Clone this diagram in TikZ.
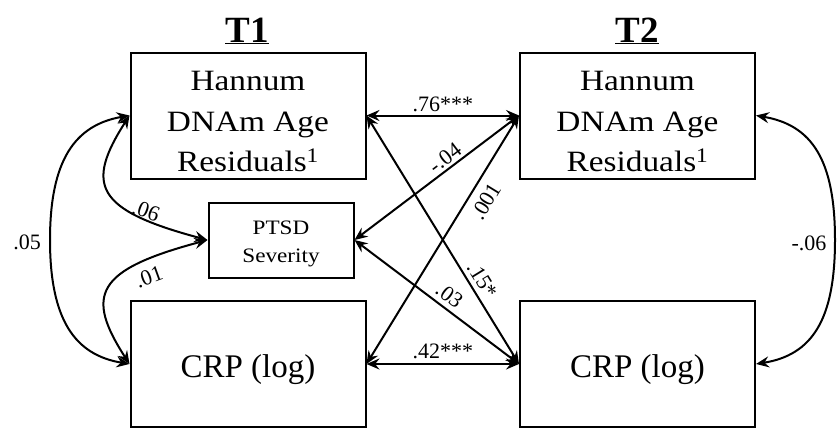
\documentclass[tikz,border=0pt]{standalone}
\usepackage{fontspec}
\setmainfont{Liberation Serif}
\newfontfamily\widefont{Liberation Serif}[FakeStretch=1.13]
\usetikzlibrary{arrows.meta}
\begin{document}
\begin{tikzpicture}[x=1pt,y=-1pt,
  box/.style={draw, line width=2pt, inner sep=0pt, align=center},
  hbox/.style={box, minimum width=235pt, minimum height=126pt,
    font=\widefont\fontsize{29.5}{40.5}\selectfont},
  cbox/.style={box, minimum width=235pt, minimum height=126pt,
    font=\fontsize{33}{36}\selectfont, text height=33pt, text depth=7pt},
  pbox/.style={box, minimum width=145pt, minimum height=75pt,
    font=\widefont\fontsize{20.5}{28}\selectfont},
  conn/.style={line width=2pt,
    {Stealth[length=13pt,width=11pt,inset=4.5pt]}-{Stealth[length=13pt,width=11pt,inset=4.5pt]}},
  lab/.style={font=\fontsize{22}{24}\selectfont, inner sep=1.5pt},
  ttl/.style={font=\bfseries\fontsize{37}{40}\selectfont, anchor=base, inner sep=0pt},
]
\useasboundingbox (0,0) rectangle (838,429);

% titles
\node[ttl] (t1) at (247,42) {\underline{T1}};
\node[ttl] (t2) at (637,42) {\underline{T2}};

% boxes
\node[hbox] (h1) at (248,115.5) {\rule{0pt}{32pt}Hannum\\DNAm Age\\Residuals\textsuperscript{1}};
\node[hbox] (h2) at (637.5,115.5) {\rule{0pt}{32pt}Hannum\\DNAm Age\\Residuals\textsuperscript{1}};
\node[cbox] (c1) at (248,364) {CRP (log)};
\node[cbox] (c2) at (637.5,364) {CRP (log)};
\node[pbox] (p) at (281,240) {\rule{0pt}{22pt}PTSD\\Severity};

% straight paths
\draw[conn] (h1.east) -- node[lab, above=1pt] (l76) {.76***} (h2.west);
\draw[conn] (c1.east) -- node[lab, above=3pt] (l42) {.42***} (c2.west);
\draw[conn] (p.east) -- node[lab, sloped, above=1pt, pos=0.59] (l04) {-.04} (h2.west);
\draw[conn] (c1.east) -- node[lab, sloped, below=7pt, pos=0.69] (l001) {.001} (h2.west);
\draw[conn] (h1.east) -- node[lab, sloped, above=3pt, pos=0.69] (l15) {.15*} (c2.west);
\draw[conn] (p.east) -- node[lab, sloped, above=3pt, pos=0.53] (l03) {.03} (c2.west);

% curved covariances
\draw[conn] (h1.west) .. controls (75,125) and (50,160) .. (50,240)
                      .. controls (50,320) and (75,355) .. (c1.west);
\draw[conn] (h1.west) .. controls (85,185) and (95,210) .. (p.west);
\draw[conn] (p.west) .. controls (95,270) and (85,295) .. (c1.west);
\draw[conn] (h2.east) .. controls (812,125) and (835,160) .. (835,240)
                      .. controls (835,320) and (812,355) .. (c2.east);

% curve labels
\node[lab] (l05) at (27,242) {.05};
\node[lab] (lm06) at (809,243) {-.06};
\node[lab, rotate=-20] (l06) at (146,211) {.06};
\node[lab, rotate=20] (l01) at (149,277) {.01};
\end{tikzpicture}
\end{document}
